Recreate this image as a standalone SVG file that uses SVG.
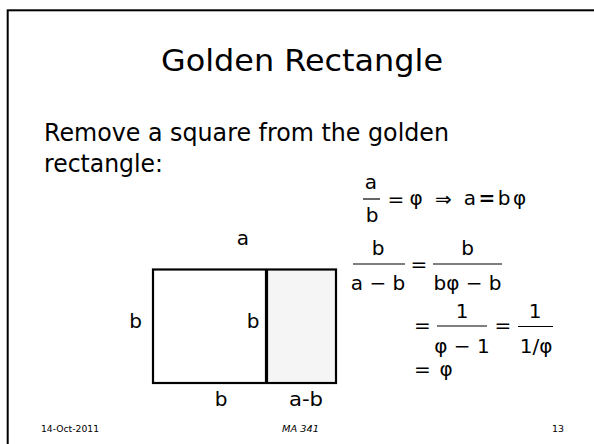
<svg xmlns="http://www.w3.org/2000/svg" width="594" height="444" viewBox="0 0 594 444">
<style>
text{font-family:"DejaVu Sans","Liberation Sans",sans-serif;fill:#000}
.title{font-size:30px}
.body{font-size:25px}
.lbl{font-size:20px;text-anchor:middle}
.m{font-size:20px;text-anchor:middle}
.foot{font-size:9px}
.bar{stroke:#000;stroke-width:1.2}
</style>
<rect width="594" height="444" fill="#fff"/>
<rect x="7.7" y="10.3" width="600" height="450" fill="none" stroke="#000" stroke-width="2"/>
<g id="title"><text class="title" x="302" y="71" text-anchor="middle" textLength="282" lengthAdjust="spacingAndGlyphs">Golden Rectangle</text></g>
<g id="body">
<text class="body" x="44" y="141" textLength="405" lengthAdjust="spacingAndGlyphs">Remove a square from the golden</text>
<text class="body" x="44" y="172" textLength="119" lengthAdjust="spacingAndGlyphs">rectangle:</text>
</g>
<g id="rectangle">
<rect x="153" y="269.5" width="113.5" height="113.5" fill="#fff"/>
<rect x="266.5" y="269.5" width="69.5" height="113.5" fill="#f5f5f5"/>
<rect x="153" y="269.5" width="183" height="113.5" fill="none" stroke="#000" stroke-width="2.2"/>
<line x1="266.5" y1="269.5" x2="266.5" y2="383" stroke="#000" stroke-width="3.2"/>
</g>
<g id="labels">
<text class="lbl" x="243" y="245">a</text>
<text class="lbl" x="135.5" y="328">b</text>
<text class="lbl" x="253" y="328">b</text>
<text class="lbl" x="221" y="406">b</text>
<text class="lbl" x="306" y="406" textLength="34" lengthAdjust="spacingAndGlyphs">a-b</text>
</g>
<g id="eq1">
<text class="m" x="371" y="189">a</text>
<line class="bar" x1="363" y1="199" x2="380" y2="199"/>
<text class="m" x="372" y="222">b</text>
<text class="m" x="396" y="205.5">=</text>
<text class="m" x="416" y="205">φ</text>
<text class="m" x="443.5" y="205.5">⇒</text>
<text class="m" x="470" y="205">a</text>
<text class="m" x="487" y="205" font-weight="bold">=</text>
<text class="m" x="504" y="205">b</text>
<text class="m" x="519.5" y="205">φ</text>
</g>
<g id="eq2">
<text class="m" x="378" y="255">b</text>
<line class="bar" x1="353" y1="264" x2="405" y2="264"/>
<text class="m" x="378" y="290">a − b</text>
<text class="m" x="419" y="270.5">=</text>
<text class="m" x="467.5" y="255">b</text>
<line class="bar" x1="433" y1="264" x2="502" y2="264"/>
<text class="m" x="467.5" y="290">bφ − b</text>
</g>
<g id="eq3">
<text class="m" x="422.5" y="332">=</text>
<text class="m" x="462" y="318">1</text>
<line class="bar" x1="437" y1="326" x2="487" y2="326"/>
<text class="m" x="462" y="353">φ − 1</text>
<text class="m" x="503" y="332">=</text>
<text class="m" x="535" y="318">1</text>
<line class="bar" x1="518" y1="326.5" x2="553" y2="326.5"/>
<text class="m" x="536" y="353">1/φ</text>
</g>
<g id="eq4">
<text class="m" x="422.5" y="376">=</text>
<text class="m" x="446" y="376">φ</text>
</g>
<g id="footer">
<text class="foot" x="41" y="432" textLength="58" lengthAdjust="spacingAndGlyphs">14-Oct-2011</text>
<text class="foot" x="282" y="432" font-style="italic" textLength="37" lengthAdjust="spacingAndGlyphs">MA 341</text>
<text class="foot" x="552" y="432" textLength="12" lengthAdjust="spacingAndGlyphs">13</text>
</g>
</svg>
